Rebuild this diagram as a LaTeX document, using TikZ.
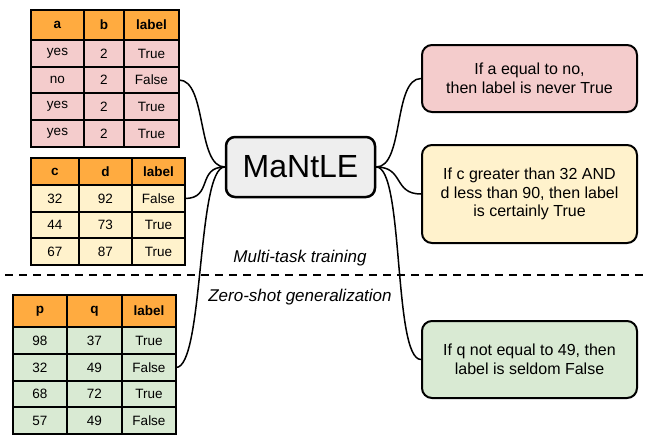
\documentclass[tikz,border=0pt]{standalone}
\usepackage{fontspec}
\setmainfont{Liberation Sans}
\definecolor{hdrc}{HTML}{FFAB40}
\definecolor{pinkc}{HTML}{F4CCCC}
\definecolor{yelc}{HTML}{FFF2CC}
\definecolor{grnc}{HTML}{D9EAD3}
\definecolor{grayc}{HTML}{EEEEEE}
\newcommand\trow[7]{%
  \node[cell,#4,minimum width={(\xb-\xa)*1pt},minimum height={(#3-#2)*1pt}] (#1-1) at ({(\xa+\xb)/2},{(#2+#3)/2}) {#5};
  \node[cell,#4,minimum width={(\xc-\xb)*1pt},minimum height={(#3-#2)*1pt}] (#1-2) at ({(\xb+\xc)/2},{(#2+#3)/2}) {#6};
  \node[cell,#4,minimum width={(\xd-\xc)*1pt},minimum height={(#3-#2)*1pt}] (#1-3) at ({(\xc+\xd)/2},{(#2+#3)/2}) {#7};
}
\begin{document}
\begin{tikzpicture}[x=1pt,y=-1pt,
  cell/.style={draw=black, line width=1.5pt, inner sep=0pt, outer sep=0pt, font=\fontsize{13.5}{15}\selectfont},
  hd/.style={fill=hdrc, font=\fontsize{13.5}{15}\selectfont\bfseries},
  pk/.style={fill=pinkc}, yl/.style={fill=yelc}, gr/.style={fill=grnc},
  rule/.style={draw=black, line width=2pt, rounded corners=10pt, align=center, inner sep=0pt,
    minimum width=215pt, font=\fontsize{16}{18.5}\selectfont},
  mainbox/.style={draw=black, line width=2.5pt, rounded corners=9pt, fill=grayc, inner sep=0pt,
    minimum width=149pt, minimum height=60pt, font=\fontsize{32}{36}\selectfont},
  conn/.style={draw=black, line width=1.5pt},
  caption/.style={font=\fontsize{17}{20}\selectfont\itshape}
]
\useasboundingbox (0,0) rectangle (647,437);
\fill[white] (0,0) rectangle (647,437);

% table 1
\def\xa{31}\def\xb{84}\def\xc{124}\def\xd{179}
\trow{ah}{10}{40}{hd}{a}{b}{label}
\trow{a1}{40}{67}{pk}{yes}{2}{True}
\trow{a2}{67}{93}{pk}{no}{2}{False}
\trow{a3}{93}{120}{pk}{yes}{2}{True}
\trow{a4}{120}{147}{pk}{yes}{2}{True}

% table 2
\def\xa{31}\def\xb{79}\def\xc{132}\def\xd{185}
\trow{ch}{158}{185}{hd}{c}{d}{label}
\trow{c1}{185}{212}{yl}{32}{92}{False}
\trow{c2}{212}{238}{yl}{44}{73}{True}
\trow{c3}{238}{265}{yl}{67}{87}{True}

% table 3
\def\xa{13}\def\xb{67}\def\xc{122}\def\xd{176}
\trow{ph}{295}{327}{hd}{p}{q}{label}
\trow{p1}{327}{354}{gr}{98}{37}{True}
\trow{p2}{354}{381}{gr}{32}{49}{False}
\trow{p3}{381}{407}{gr}{68}{72}{True}
\trow{p4}{407}{434}{gr}{57}{49}{False}

% main
\node[mainbox] (mantle) at (300.5,167) {MaNtLE};

% rules
\node[rule, fill=pinkc, minimum height=67pt] (r1) at (529.5,78.5) {If a equal to no,\\then label is never True};
\node[rule, fill=yelc, minimum height=98pt] (r2) at (529.5,194) {If c greater than 32 AND\\d less than 90, then label\\is certainly True};
\node[rule, fill=grnc, minimum height=77pt] (r3) at (529.5,359.5) {If q not equal to 49, then\\label is seldom False};

% captions
\node[caption] (mt) at (300,258) {Multi-task training};
\node[caption] (zs) at (300,297) {Zero-shot generalization};

% dashed separator
\coordinate (dl) at (5,275);
\coordinate (dr) at (645,275);
\draw[line width=1.5pt, dash pattern=on 8pt off 6pt] (dl) -- (dr);

% connectors
\draw[conn] (a2-3.east) .. controls +(28,0) and +(-28,0) .. (mantle.west);
\draw[conn] (c1-3.east) .. controls +(28,0) and +(-28,0) .. (mantle.west);
\draw[conn] (p2-3.east) .. controls +(28,0) and +(-28,0) .. (mantle.west);
\draw[conn] (mantle.east) .. controls +(28,0) and +(-28,0) .. (r1.west);
\draw[conn] (mantle.east) .. controls +(28,0) and +(-28,0) .. (r2.west);
\draw[conn] (mantle.east) .. controls +(28,0) and +(-28,0) .. (r3.west);
\end{tikzpicture}
\end{document}
